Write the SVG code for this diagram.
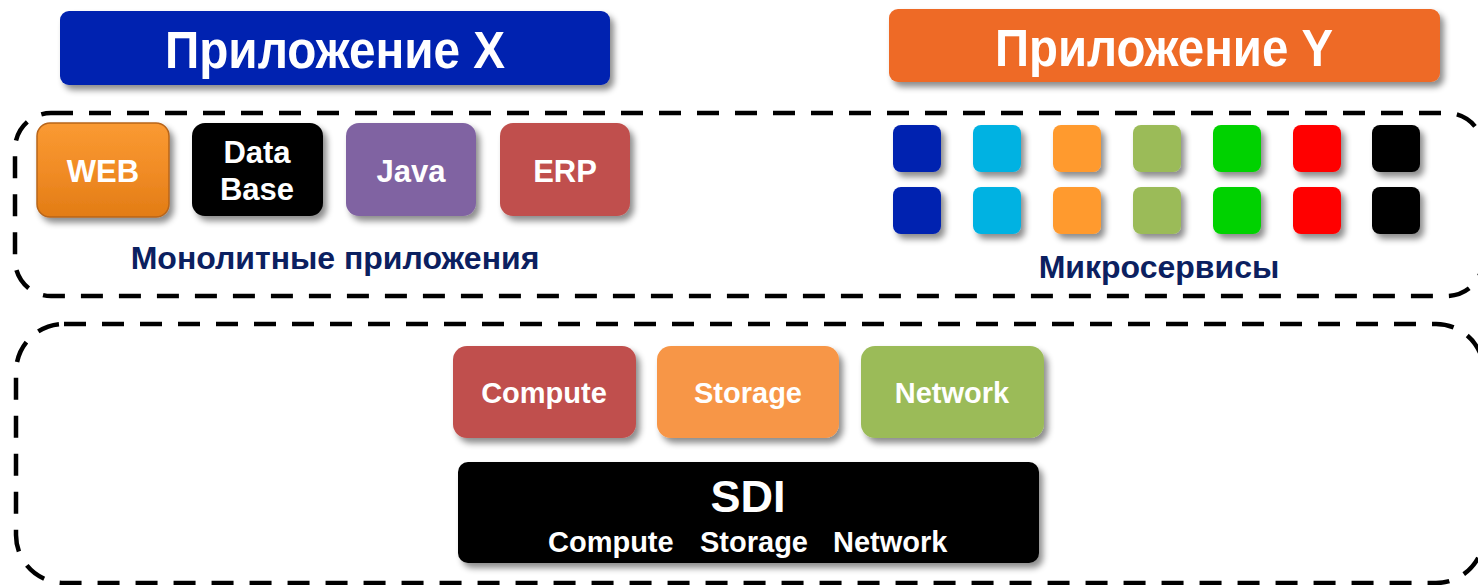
<svg xmlns="http://www.w3.org/2000/svg" width="1478" height="585" viewBox="0 0 1478 585">
  <defs>
    <filter id="shadow" x="-20%" y="-20%" width="150%" height="160%">
      <feDropShadow dx="4" dy="5" stdDeviation="3" flood-color="#000" flood-opacity="0.45"/>
    </filter>
    <linearGradient id="webFill" x1="0" y1="0" x2="0" y2="1">
      <stop offset="0" stop-color="#FA9A32"/>
      <stop offset="0.5" stop-color="#F18C26"/>
      <stop offset="1" stop-color="#E27C14"/>
    </linearGradient>
  </defs>
  <style>
    text { font-family: "Liberation Sans", Arial, sans-serif; font-weight: bold; text-anchor: middle; }
    .w { fill: #ffffff; }
    .title { font-size: 51px; }
    .lbl { font-size: 31px; }
    .res { font-size: 29px; }
    .cap { font-size: 32px; fill: #0B2060; }
    .frame { fill: none; stroke: #000; stroke-width: 4.5; stroke-dasharray: 22 16; }
    .sh { filter: url(#shadow); }
  </style>

  <rect width="1478" height="585" fill="#ffffff"/>

  <!-- dashed layer frames -->
  <g id="frames">
    <rect class="frame" x="15" y="113" width="1468" height="183" rx="36"/>
    <rect class="frame" x="16" y="324" width="1468" height="259" rx="48"/>
  </g>

  <!-- application headers -->
  <g id="app-x">
    <rect class="sh" x="60" y="11" width="550" height="74" rx="9" fill="#0020B0"/>
    <text class="w title" x="335" y="68" textLength="340" lengthAdjust="spacingAndGlyphs">Приложение X</text>
  </g>
  <g id="app-y">
    <rect class="sh" x="889" y="9" width="551" height="73" rx="9" fill="#EE6A28"/>
    <text class="w title" x="1164" y="66" textLength="338" lengthAdjust="spacingAndGlyphs">Приложение Y</text>
  </g>

  <!-- monolithic applications -->
  <g id="web">
    <rect class="sh" x="37" y="123" width="132" height="94" rx="13" fill="url(#webFill)" stroke="#B8651A" stroke-width="1.5"/>
    <text class="w lbl" x="103" y="182">WEB</text>
  </g>
  <g id="database">
    <rect class="sh" x="192" y="123" width="131" height="93" rx="13" fill="#000000"/>
    <text class="w lbl" x="257" y="163">Data</text>
    <text class="w lbl" x="257" y="200">Base</text>
  </g>
  <g id="java">
    <rect class="sh" x="346" y="123" width="130" height="93" rx="13" fill="#8064A2"/>
    <text class="w lbl" x="411" y="182">Java</text>
  </g>
  <g id="erp">
    <rect class="sh" x="500" y="123" width="130" height="93" rx="13" fill="#C0504D"/>
    <text class="w lbl" x="565" y="182">ERP</text>
  </g>
  <text id="monolith-caption" class="cap" x="335" y="269">Монолитные приложения</text>

  <!-- microservices grid -->
  <g id="microservices">
    <g class="sh">
      <rect x="893" y="125" width="48" height="47" rx="8" fill="#0020B0"/>
      <rect x="973" y="125" width="48" height="47" rx="8" fill="#00B2E2"/>
      <rect x="1053" y="125" width="48" height="47" rx="8" fill="#FF9A2E"/>
      <rect x="1133" y="125" width="48" height="47" rx="8" fill="#9BBB59"/>
      <rect x="1213" y="125" width="48" height="47" rx="8" fill="#00D200"/>
      <rect x="1293" y="125" width="48" height="47" rx="8" fill="#FF0000"/>
      <rect x="1372" y="125" width="48" height="47" rx="8" fill="#000000"/>
      <rect x="893" y="187" width="48" height="47" rx="8" fill="#0020B0"/>
      <rect x="973" y="187" width="48" height="47" rx="8" fill="#00B2E2"/>
      <rect x="1053" y="187" width="48" height="47" rx="8" fill="#FF9A2E"/>
      <rect x="1133" y="187" width="48" height="47" rx="8" fill="#9BBB59"/>
      <rect x="1213" y="187" width="48" height="47" rx="8" fill="#00D200"/>
      <rect x="1293" y="187" width="48" height="47" rx="8" fill="#FF0000"/>
      <rect x="1372" y="187" width="48" height="47" rx="8" fill="#000000"/>
    </g>
    <text class="cap" x="1159" y="278">Микросервисы</text>
  </g>

  <!-- infrastructure resources -->
  <g id="compute">
    <rect class="sh" x="453" y="346" width="183" height="92" rx="14" fill="#C0504D"/>
    <text class="w res" x="544" y="403">Compute</text>
  </g>
  <g id="storage">
    <rect class="sh" x="657" y="346" width="182" height="92" rx="14" fill="#F79646"/>
    <text class="w res" x="748" y="403">Storage</text>
  </g>
  <g id="network">
    <rect class="sh" x="861" y="346" width="183" height="92" rx="14" fill="#9BBB59"/>
    <text class="w res" x="952" y="403">Network</text>
  </g>
  <g id="sdi">
    <rect class="sh" x="458" y="462" width="581" height="101" rx="10" fill="#000000"/>
    <text class="w" x="748" y="512" style="font-size:45px">SDI</text>
    <text class="w res" y="552" style="text-anchor:start"><tspan x="548">Compute</tspan> <tspan x="700">Storage</tspan> <tspan x="833">Network</tspan></text>
  </g>

  <!-- no connectors are drawn in this diagram -->
  <g id="connectors"/>
</svg>
